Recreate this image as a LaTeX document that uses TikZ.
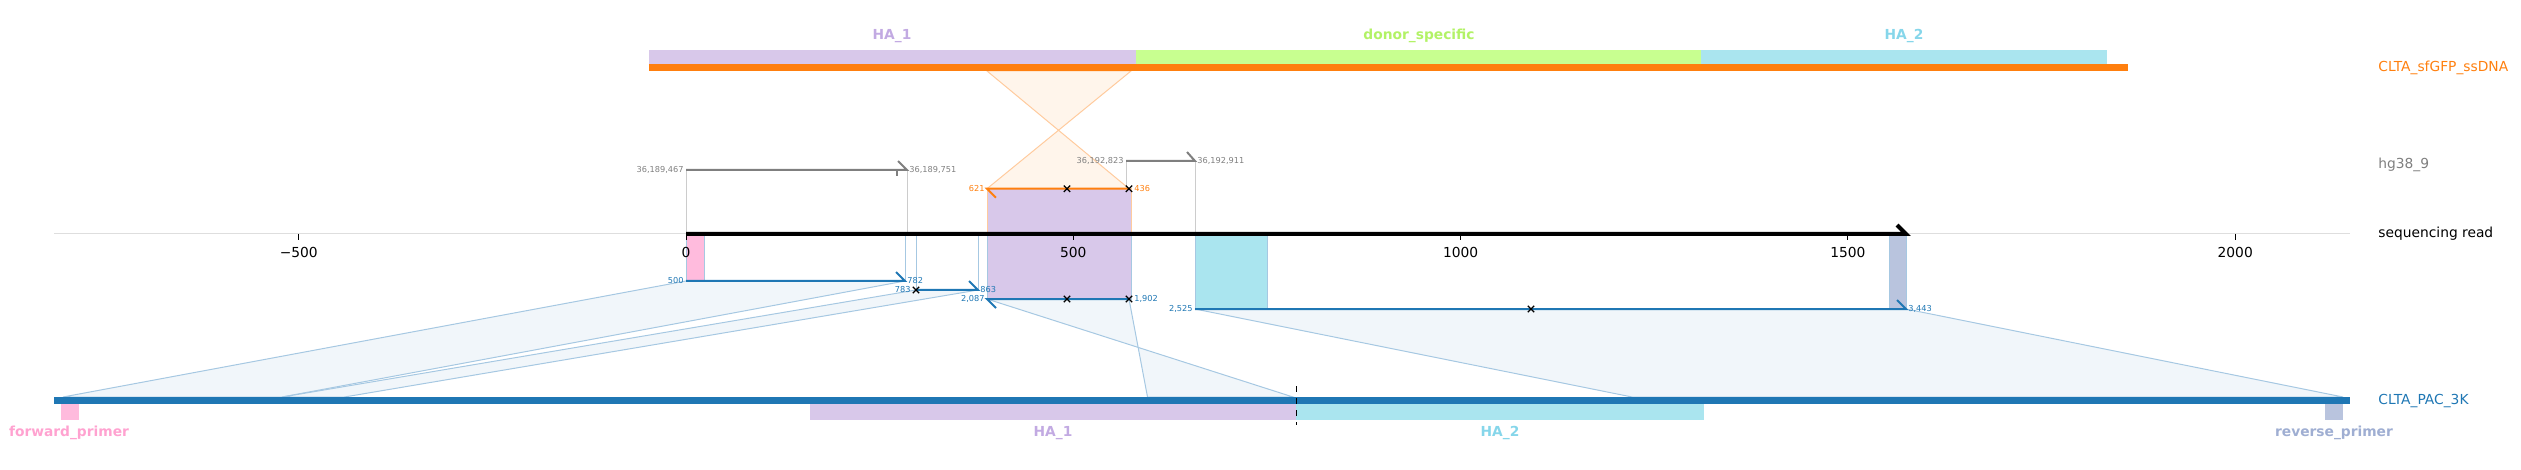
\documentclass[tikz,border=0pt]{standalone}
\usepackage{fontspec}
\setmainfont{DejaVu Sans}
\usepackage{tikz}
\usetikzlibrary{shapes.misc}

\definecolor{tabblue}{HTML}{1F77B4}
\definecolor{taborange}{HTML}{FF7F0E}
\definecolor{tabgray}{HTML}{7F7F7F}
\definecolor{haone}{HTML}{D8C8EA}
\definecolor{haonetext}{HTML}{C2AAE2}
\definecolor{hatwo}{HTML}{AAE5EF}
\definecolor{hatwotext}{HTML}{86D6EA}
\definecolor{donor}{HTML}{C8FF90}
\definecolor{donortext}{HTML}{B2F266}
\definecolor{fwd}{HTML}{FFBBDD}
\definecolor{fwdtext}{HTML}{FFA2D0}
\definecolor{rev}{HTML}{B9C4DE}
\definecolor{revtext}{HTML}{9FAED2}
\definecolor{paleblue}{HTML}{A6C8E2}
\definecolor{fillblue}{HTML}{F1F6FA}
\definecolor{paleorange}{HTML}{FFCB9E}
\definecolor{fillorange}{HTML}{FFF5EB}

\begin{document}
\begin{tikzpicture}[
        x = 0.5pt,
        y = -0.5pt,
        small/.style = {
            font = \fontsize{4.1}{5}\selectfont,
            inner sep = 1pt
        },
        big/.style = {
            font = \fontsize{6.9}{8}\selectfont,
            inner sep = 0pt
        },
        feat/.style = {
            font = \bfseries\fontsize{6.9}{8}\selectfont,
            inner sep = 0pt
        },
        mismatch/.style = {
            cross out,
            draw = black,
            line width = 0.6pt,
            minimum size = 2.6pt,
            inner sep = 0pt
        },
        aln/.style = {line width = 1pt},
        guide/.style = {line width = 0.5pt},
        band/.style = {fill = fillblue, draw = paleblue, line width = 0.5pt}
        ]
        \useasboundingbox (0,0) rectangle (2521,470);
%
        \coordinate (dA) at (987,71);
        \coordinate (dB) at (1131,71);
        \coordinate (o1) at (987,188.7);
        \coordinate (o2) at (1129,188.7);
        \coordinate (g1) at (686,170);
        \coordinate (g2) at (907,170);
        \coordinate (g3) at (1126,161);
        \coordinate (g4) at (1195,161);
        \coordinate (r0) at (686,234);
        \coordinate (r1) at (1906,234);
%
        \coordinate (p1) at (686,281);
        \coordinate (p2) at (905,281);
        \coordinate (p3) at (916,290);
        \coordinate (p4) at (978,290);
        \coordinate (p5) at (987,299);
        \coordinate (p6) at (1129,299);
        \coordinate (p7) at (1195,309);
        \coordinate (p8) at (1906,309);
%
        \coordinate (q1) at (63,397);
        \coordinate (q2) at (282,397);
        \coordinate (q3) at (282.5,397);
        \coordinate (q4) at (344.5,397);
        \coordinate (q5) at (1293,397);
        \coordinate (q6) at (1147.5,397);
        \coordinate (q7) at (1632,397);
        \coordinate (q8) at (2343,397);
%
% donor ssDNA
        \draw[fill=fillorange, draw=paleorange, line width=0.5pt] (dA) -- (dB) -- (o1) -- (o2) -- cycle;
        \fill[haone] (649,50) rectangle (1136,64);
        \fill[donor] (1136,50) rectangle (1701,64);
        \fill[hatwo] (1701,50) rectangle (2107,64);
        \fill[taborange] (649,64) rectangle (2128,71);
        \node[feat, text=haonetext] (t1) at (892,36) {HA\_1};
        \node[feat, text=donortext] (t2) at (1419,36) {donor\_specific};
        \node[feat, text=hatwotext] (t3) at (1904,36) {HA\_2};
%
% axis
        \draw[guide, black!13] (54,234) -- (2350,234);
        \draw[guide, black!20] (g1) -- (g1 |- r0);
        \draw[guide, black!20] (g2) -- (g2 |- r0);
        \draw[guide, black!20] (g3) -- (g3 |- r0);
        \draw[guide, black!20] (g4) -- (g4 |- r0);
%
% bands to CLTA_PAC_3K
        \draw[band] (p1) -- (p2) -- (q2) -- (q1) -- cycle;
        \draw[band] (p3) -- (p4) -- (q4) -- (q3) -- cycle;
        \draw[band] (p5) -- (p6) -- (q6) -- (q5) -- cycle;
        \draw[band] (p7) -- (p8) -- (q8) -- (q7) -- cycle;
%
% features on the read
        \draw[fill=haone, draw=paleorange, line width=0.5pt] (o1) rectangle (1131,234);
        \draw[fill=haone, draw=paleblue, line width=0.5pt] (987,234) rectangle (1131,299);
        \draw[fill=fwd, draw=paleblue, line width=0.5pt] (r0) rectangle (704,281);
        \draw[fill=hatwo, draw=paleblue, line width=0.5pt] (1195,234) rectangle (1267,309);
        \draw[fill=rev, draw=paleblue, line width=0.5pt] (1889,234) rectangle (r1 |- p8);
%
        \draw[guide, paleblue] (p2) -- (p2 |- r0);
        \draw[guide, paleblue] (p3) -- (p3 |- r0);
        \draw[guide, paleblue] (p4) -- (p4 |- r0);
%
% hg38_9
        \draw[aln, tabgray] (g1) -- (g2) -- ++(-9,-9);
        \draw[line width=0.6pt, tabgray] (897,170) -- (897,176);
        \draw[aln, tabgray] (g3) -- (g4) -- ++(-8,-9);
        \node[small, text=tabgray, anchor=east] (g1l) at (g1) {36,189,467};
        \node[small, text=tabgray, anchor=west] (g2l) at (g2) {36,189,751};
        \node[small, text=tabgray, anchor=east] (g3l) at (g3) {36,192,823};
        \node[small, text=tabgray, anchor=west] (g4l) at (g4) {36,192,911};
%
% CLTA_sfGFP_ssDNA on the read
        \draw[aln, taborange] (o2) -- (o1) -- ++(9,9);
        \node[mismatch] (x1) at (1067,188.7) {};
        \node[mismatch] (x2) at (o2) {};
        \node[small, text=taborange, anchor=east] (o1l) at (o1) {621};
        \node[small, text=taborange, anchor=west] (o2l) at ([xshift=1.5pt]o2) {436};
%
% CLTA_PAC_3K on the read
        \draw[aln, tabblue] (p1) -- (p2) -- ++(-9,-9);
        \draw[aln, tabblue] (p3) -- (p4) -- ++(-9,-9);
        \draw[aln, tabblue] (p6) -- (p5) -- ++(9,9);
        \draw[aln, tabblue] (p7) -- (p8) -- ++(-9,-9);
        \node[mismatch] (x3) at (p3) {};
        \node[mismatch] (x4) at (1067,299) {};
        \node[mismatch] (x5) at (p6) {};
        \node[mismatch] (x6) at (1531,309) {};
        \node[small, text=tabblue, anchor=east] (p1l) at (p1) {500};
        \node[small, text=tabblue, anchor=west] (p2l) at (p2) {782};
        \node[small, text=tabblue, anchor=east] (p3l) at ([xshift=-1.5pt]p3) {783};
        \node[small, text=tabblue, anchor=west] (p4l) at (p4) {863};
        \node[small, text=tabblue, anchor=east] (p5l) at (p5) {2,087};
        \node[small, text=tabblue, anchor=west] (p6l) at ([xshift=1.5pt]p6) {1,902};
        \node[small, text=tabblue, anchor=east] (p7l) at (p7) {2,525};
        \node[small, text=tabblue, anchor=west] (p8l) at (p8) {3,443};
%
% sequencing read
        \draw[line width=2pt, black, line join=miter] (r0) -- (r1) -- ++(-9,-9);
        \draw[line width=0.5pt] (298.7,234) -- (298.7,240);
        \draw[line width=0.5pt] (686,234) -- (686,240);
        \draw[line width=0.5pt] (1073.3,234) -- (1073.3,240);
        \draw[line width=0.5pt] (1460.6,234) -- (1460.6,240);
        \draw[line width=0.5pt] (1847.9,234) -- (1847.9,240);
        \draw[line width=0.5pt] (2235.2,234) -- (2235.2,240);
        \node[big] (k1) at (298.7,252) {−500};
        \node[big] (k2) at (686,252) {0};
        \node[big] (k3) at (1073.3,252) {500};
        \node[big] (k4) at (1460.6,252) {1000};
        \node[big] (k5) at (1847.9,252) {1500};
        \node[big] (k6) at (2235.2,252) {2000};
%
% CLTA_PAC_3K
        \fill[tabblue] (54,397) rectangle (2350,404);
        \fill[fwd] (61,404) rectangle (79,420);
        \fill[haone] (810,404) rectangle (1296,420);
        \fill[hatwo] (1296,404) rectangle (1704,420);
        \fill[rev] (2325,404) rectangle (2343,420);
        \draw[line width=0.5pt, dashed] (1296,386) -- (1296,425);
        \node[feat, text=fwdtext] (b1) at (69,433) {forward\_primer};
        \node[feat, text=haonetext] (b2) at (1053,433) {HA\_1};
        \node[feat, text=hatwotext] (b3) at (1500,433) {HA\_2};
        \node[feat, text=revtext] (b4) at (2334,433) {reverse\_primer};
%
        \node[big, text=taborange, anchor=west] (n1) at (2378,68) {CLTA\_sfGFP\_ssDNA};
        \node[big, text=tabgray, anchor=west] (n2) at (2378,165) {hg38\_9};
        \node[big, text=black, anchor=west] (n3) at (2378,234) {sequencing read};
        \node[big, text=tabblue, anchor=west] (n4) at (2378,401) {CLTA\_PAC\_3K};
%
    \end{tikzpicture}
\end{document}
